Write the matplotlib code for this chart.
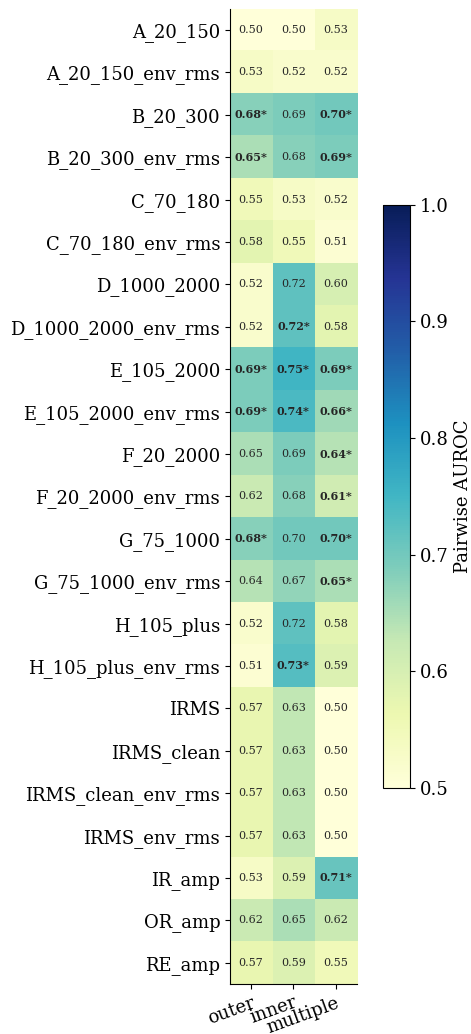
import matplotlib
matplotlib.use("Agg")
import matplotlib.pyplot as plt
import numpy as np

plt.rcParams["font.family"] = "DejaVu Serif"

features = [
    "A_20_150", "A_20_150_env_rms", "B_20_300", "B_20_300_env_rms",
    "C_70_180", "C_70_180_env_rms", "D_1000_2000", "D_1000_2000_env_rms",
    "E_105_2000", "E_105_2000_env_rms", "F_20_2000", "F_20_2000_env_rms",
    "G_75_1000", "G_75_1000_env_rms", "H_105_plus", "H_105_plus_env_rms",
    "IRMS", "IRMS_clean", "IRMS_clean_env_rms", "IRMS_env_rms",
    "IR_amp", "OR_amp", "RE_amp",
]
classes = ["outer", "inner", "multiple"]

outer = [0.50, 0.53, 0.68, 0.65, 0.55, 0.58, 0.52, 0.52, 0.69, 0.69, 0.65, 0.62,
         0.68, 0.64, 0.52, 0.51, 0.57, 0.57, 0.57, 0.57, 0.53, 0.62, 0.57]
inner = [0.50, 0.52, 0.69, 0.68, 0.53, 0.55, 0.72, 0.72, 0.75, 0.74, 0.69, 0.68,
         0.70, 0.67, 0.72, 0.73, 0.63, 0.63, 0.63, 0.63, 0.59, 0.65, 0.59]
multiple = [0.53, 0.52, 0.70, 0.69, 0.52, 0.51, 0.60, 0.58, 0.69, 0.66, 0.64, 0.61,
            0.70, 0.65, 0.58, 0.59, 0.50, 0.50, 0.50, 0.50, 0.71, 0.62, 0.55]

# significance flags (bold + asterisk)
sig_outer = [0, 0, 1, 1, 0, 0, 0, 0, 1, 1, 0, 0, 1, 0, 0, 0, 0, 0, 0, 0, 0, 0, 0]
sig_inner = [0, 0, 0, 0, 0, 0, 0, 1, 1, 1, 0, 0, 0, 0, 0, 1, 0, 0, 0, 0, 0, 0, 0]
sig_multiple = [0, 0, 1, 1, 0, 0, 0, 0, 1, 1, 1, 1, 1, 1, 0, 0, 0, 0, 0, 0, 1, 0, 0]

vals = np.column_stack([outer, inner, multiple])
sig = np.column_stack([sig_outer, sig_inner, sig_multiple])

fig = plt.figure(figsize=(4.71, 10.34), dpi=100)
ax = fig.add_axes([0.488, 0.0484, 0.27, 0.943])
cax = fig.add_axes([0.813, 0.238, 0.057, 0.564])

im = ax.imshow(vals, cmap="YlGnBu", vmin=0.5, vmax=1.0, aspect="auto",
               interpolation="nearest")

for i in range(vals.shape[0]):
    for j in range(vals.shape[1]):
        v = vals[i, j]
        if sig[i, j]:
            ax.text(j, i, f"{v:.2f}*", ha="center", va="center", fontsize=8,
                    fontweight="bold", color="#262626")
        else:
            ax.text(j, i, f"{v:.2f}", ha="center", va="center", fontsize=8,
                    color="#262626")

ax.set_yticks(range(len(features)))
ax.set_yticklabels(features, fontsize=13)
ax.set_xticks(range(len(classes)))
ax.set_xticklabels(classes, fontsize=13, rotation=20, ha="right",
                   rotation_mode="anchor")
ax.spines[["top", "right"]].set_visible(False)

cb = fig.colorbar(im, cax=cax)
cb.set_label("Pairwise AUROC", fontsize=13)
cb.ax.tick_params(labelsize=13)
cb.set_ticks([0.5, 0.6, 0.7, 0.8, 0.9, 1.0])

fig.savefig("out.png", dpi=100)
